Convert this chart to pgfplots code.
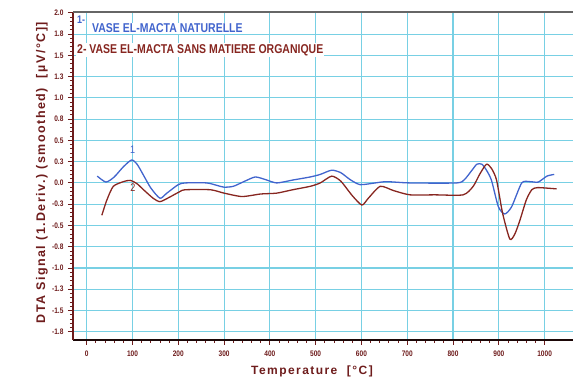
\documentclass[border=0pt]{standalone}
\usepackage{fontspec}
\setmainfont{Liberation Sans}[FakeStretch=0.82]
\newfontfamily\labfont{Liberation Sans}[LetterSpace=12]
\usepackage{pgfplots}
\pgfplotsset{compat=1.18}
\definecolor{axred}{RGB}{110,28,28}
\definecolor{cblue}{RGB}{65,100,205}
\definecolor{cred}{RGB}{135,38,32}
\definecolor{gridc}{RGB}{120,208,228}

\pgfplotstableread{
T V
23 0.08
42 0.01
60 0.07
80 0.19
98 0.27
110 0.22
124 0.09
140 -0.06
160 -0.18
175 -0.12
200 -0.02
215 0.0
262 0.0
285 -0.03
300 -0.05
320 -0.04
345 0.02
368 0.07
390 0.04
415 0.0
451 0.035
488 0.07
510 0.1
535 0.15
555 0.12
575 0.04
597 -0.02
630 0.0
655 0.015
706 0.0
808 0.0
825 0.04
840 0.14
852 0.22
863 0.22
873 0.15
884 0.03
899 -0.28
913 -0.365
928 -0.28
950 0.0
968 0.015
986 0.01
1005 0.08
1021 0.10
}\seriesA

\pgfplotstableread{
T V
33 -0.38
44 -0.2
58 -0.04
80 0.015
95 0.03
110 -0.01
124 -0.08
145 -0.18
160 -0.22
180 -0.17
204 -0.1
215 -0.08
270 -0.08
300 -0.12
339 -0.16
380 -0.13
415 -0.12
450 -0.08
488 -0.04
510 0.0
535 0.08
555 0.02
580 -0.15
601 -0.26
615 -0.18
641 -0.04
670 -0.09
706 -0.14
760 -0.14
822 -0.14
844 -0.04
858 0.1
873 0.22
884 0.17
895 0.035
908 -0.35
924 -0.66
935 -0.6
946 -0.44
960 -0.2
972 -0.08
985 -0.055
1026 -0.07
}\seriesB

\begin{document}
\begin{tikzpicture}
\begin{axis}[
  at={(0,0)}, anchor=south west,
  scale only axis, width=500pt, height=328pt,
  xmin=-30, xmax=1062, ymin=-1.847, ymax=2.01,
  axis lines*=left,
  x axis line style={line width=1.6pt, color=black!75!axred},
  y axis line style={line width=1.6pt, color=axred},
  xtick={0,100,...,1000},
  xticklabels={0,100,200,300,400,500,600,700,800,900,1000},
  ytick={-1.75,-1.5,...,2.0},
  yticklabels={-1.8,-1.5,-1.3,-1.0,-0.8,-0.5,-0.3,0.0,0.3,0.5,0.8,1.0,1.3,1.5,1.8,2.0},
  minor x tick num=4,
  minor y tick num=4,
  tick align=outside,
  major tick length=5pt,
  minor tick length=3pt,
  every tick/.style={axred, line width=0.9pt},
  tick label style={font=\bfseries\fontsize{8}{9}\selectfont, text=axred},
  xticklabel style={yshift=-2pt},
  yticklabel style={xshift=-1pt},
  grid=major,
  major grid style={gridc, line width=1.1pt},
  clip=false,
]
\addplot[cblue, line width=1.3pt, smooth, tension=0.4] table[x=T,y=V]{\seriesA};
\addplot[cred, line width=1.3pt, smooth, tension=0.4] table[x=T,y=V]{\seriesB};
\draw[line width=1.6pt, black!60] (rel axis cs:0,1) -- (rel axis cs:1,1);
\node[anchor=west, fill=white, inner sep=1pt, text=cblue, font=\bfseries\fontsize{11}{12}\selectfont] at (axis description cs:0.006,0.975) {1-};
\node[anchor=west, fill=white, inner sep=1pt, text=cblue, font=\bfseries\fontsize{12.8}{14}\selectfont] at (axis description cs:0.036,0.951) {VASE EL-MACTA NATURELLE};
\node[anchor=west, fill=white, inner sep=1pt, text=cred, font=\bfseries\fontsize{12.8}{14}\selectfont] at (axis description cs:0.006,0.884) {2- VASE EL-MACTA SANS MATIERE ORGANIQUE};
\node[text=cblue, font=\fontsize{11}{12}\selectfont] at (axis cs:100,0.39) {1};
\node[text=cred, font=\fontsize{11}{12}\selectfont] at (axis cs:101,-0.05) {2};
\node[text=axred, font=\labfont\bfseries\fontsize{12}{13}\selectfont] at (axis description cs:0.478,-0.097) {Temperature\ \ [°C]};
\node[text=axred, rotate=90, font=\labfont\bfseries\fontsize{12.5}{13}\selectfont] at (axis description cs:-0.062,0.51) {DTA Signal\ (1.Deriv.)\ (smoothed)\ \ [µV/°C]]};
\end{axis}
\pgfresetboundingbox
\path[use as bounding box] (-73pt,-40pt) rectangle (500pt,340pt);
\end{tikzpicture}
\end{document}
